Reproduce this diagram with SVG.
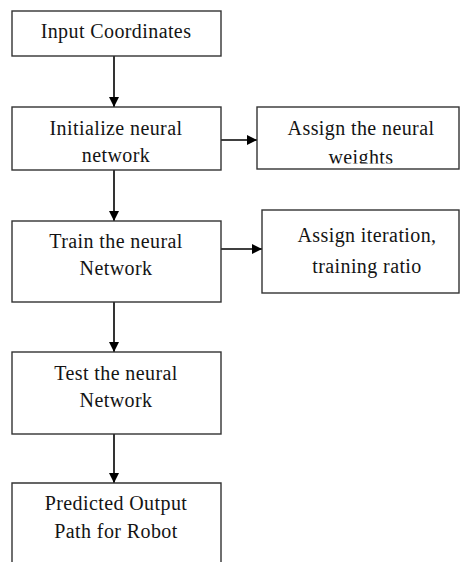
<svg xmlns="http://www.w3.org/2000/svg" width="461" height="562" viewBox="0 0 461 562">
  <style>
    .box { fill: #ffffff; stroke: #333333; stroke-width: 1.4; }
    .lbl { font-family: "Liberation Serif", "Times New Roman", serif; font-size: 20px; letter-spacing: 0.4px; fill: #141414; text-anchor: middle; }
    .wire { stroke: #000000; stroke-width: 1.6; fill: none; marker-end: url(#head); }
  </style>
  <defs>
    <marker id="head" viewBox="0 0 10 10" refX="10" refY="5" markerWidth="10" markerHeight="10" markerUnits="userSpaceOnUse" orient="auto">
      <path d="M0,0 L10,5 L0,10 Z" fill="#000000"/>
    </marker>
    <!-- second label line of the weights box is cut at its baseline -->
    <clipPath id="clipWeights"><rect x="257" y="107" width="202" height="56.5"/></clipPath>
  </defs>
  <rect width="461" height="562" fill="#ffffff"/>

  <g id="connectors">
    <line class="wire" x1="114" y1="56" x2="114" y2="107"/>
    <line class="wire" x1="114" y1="170" x2="114" y2="221"/>
    <line class="wire" x1="114" y1="302" x2="114" y2="352"/>
    <line class="wire" x1="114" y1="434" x2="114" y2="483"/>
    <line class="wire" x1="221" y1="140" x2="257" y2="140"/>
    <line class="wire" x1="221" y1="249" x2="262" y2="249"/>
  </g>

  <g id="input">
    <rect class="box" x="12" y="11" width="209" height="45"/>
    <text class="lbl" x="116" y="38">Input Coordinates</text>
  </g>

  <g id="init">
    <rect class="box" x="12" y="107" width="209" height="63"/>
    <text class="lbl" x="116" y="135">Initialize neural</text>
    <text class="lbl" x="116" y="162">network</text>
  </g>

  <g id="weights">
    <rect class="box" x="257" y="107" width="202" height="62"/>
    <g clip-path="url(#clipWeights)">
      <text class="lbl" x="361" y="135">Assign the neural</text>
      <text class="lbl" x="361" y="164">weights</text>
    </g>
  </g>

  <g id="train">
    <rect class="box" x="12" y="221" width="209" height="81"/>
    <text class="lbl" x="116" y="248">Train the neural</text>
    <text class="lbl" x="116" y="275">Network</text>
  </g>

  <g id="iteration">
    <rect class="box" x="262" y="210" width="197" height="83"/>
    <text class="lbl" x="367" y="242">Assign iteration,</text>
    <text class="lbl" x="367" y="273">training ratio</text>
  </g>

  <g id="test">
    <rect class="box" x="12" y="352" width="209" height="82"/>
    <text class="lbl" x="116" y="380">Test the neural</text>
    <text class="lbl" x="116" y="407">Network</text>
  </g>

  <g id="output">
    <path class="box" d="M12,565 V483 H221 V565"/>
    <text class="lbl" x="116" y="510">Predicted Output</text>
    <text class="lbl" x="116" y="538">Path for Robot</text>
  </g>
</svg>
